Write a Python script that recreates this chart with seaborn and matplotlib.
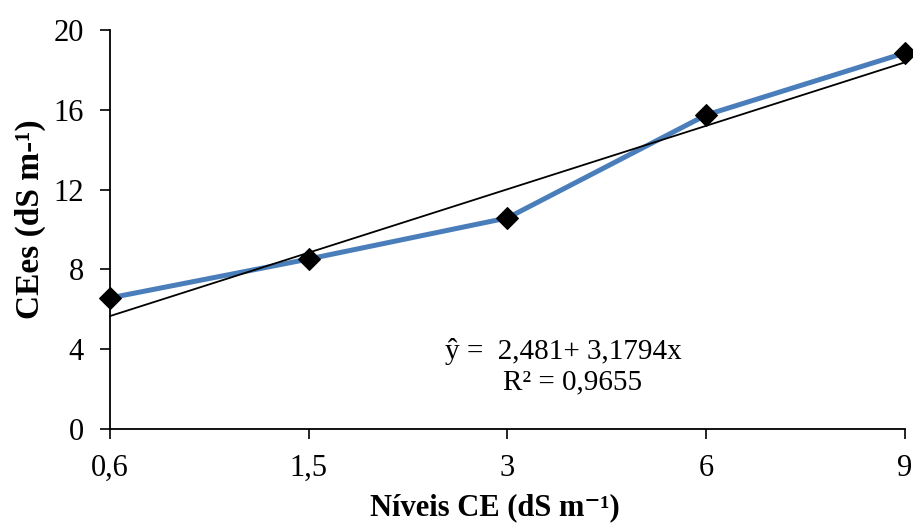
import numpy as np
import pandas as pd
import matplotlib
matplotlib.use("Agg")
import matplotlib.pyplot as plt
import seaborn as sns

# Salinity levels of irrigation water and measured soil extract EC
levels = ["0,6", "1,5", "3", "6", "9"]
ce_es = [6.57, 8.52, 10.58, 15.74, 18.85]

# Fitted linear model over level order
intercept = 2.481
slope = 3.1794
r2 = 0.9655

sns.set_theme(style="white")
plt.rcParams["font.family"] = ["Liberation Serif", "DejaVu Serif"]

pos = np.arange(1, len(levels) + 1)
df = pd.DataFrame({"pos": pos, "ce": ce_es})
fit = pd.DataFrame({"pos": pos, "yhat": intercept + slope * pos})

fig = plt.figure(figsize=(9.13, 5.27), dpi=100)
ax = fig.add_axes([0.1205, 0.186, 0.8705, 0.757])

sns.lineplot(data=df, x="pos", y="ce", ax=ax, color="#4A7EBB", linewidth=3.6,
             marker="D", markersize=11.5, markerfacecolor="black",
             markeredgecolor="black", zorder=3, clip_on=False)
sns.lineplot(data=fit, x="pos", y="yhat", ax=ax, color="black", linewidth=1.3,
             zorder=4, clip_on=False)

ax.set_xlim(1, 5)
ax.set_ylim(0, 20)
ax.set_xticks(pos)
ax.set_xticklabels(levels)
ax.set_yticks(np.arange(0, 21, 4))
ax.tick_params(axis="both", which="major", direction="out", length=7, width=1.2,
               color="black", labelsize=22, labelcolor="black",
               bottom=True, left=True)
ax.tick_params(axis="x", pad=11)
ax.tick_params(axis="y", pad=12)

for side in ["top", "right"]:
    ax.spines[side].set_visible(False)
for side in ["left", "bottom"]:
    ax.spines[side].set_color("black")
    ax.spines[side].set_linewidth(1.3)

ax.set_xlabel("Níveis CE (dS m⁻¹)", fontsize=22, fontweight="bold",
              color="black")
ax.xaxis.set_label_coords(0.484, -0.16)
ax.set_ylabel("CEes (dS m-¹)", fontsize=24, fontweight="bold",
              color="black")
ax.yaxis.set_label_coords(-0.08, 0.527)

ax.text(0.57, 0.193, f"ŷ =  {intercept:.3f}+ {slope:.4f}x".replace(".", ","),
        transform=ax.transAxes, ha="center", va="center", fontsize=21,
        color="black")
ax.text(0.582, 0.118, f"R² = {r2:.4f}".replace(".", ","),
        transform=ax.transAxes, ha="center", va="center", fontsize=21,
        color="black")

fig.savefig("out.png", dpi=100)
